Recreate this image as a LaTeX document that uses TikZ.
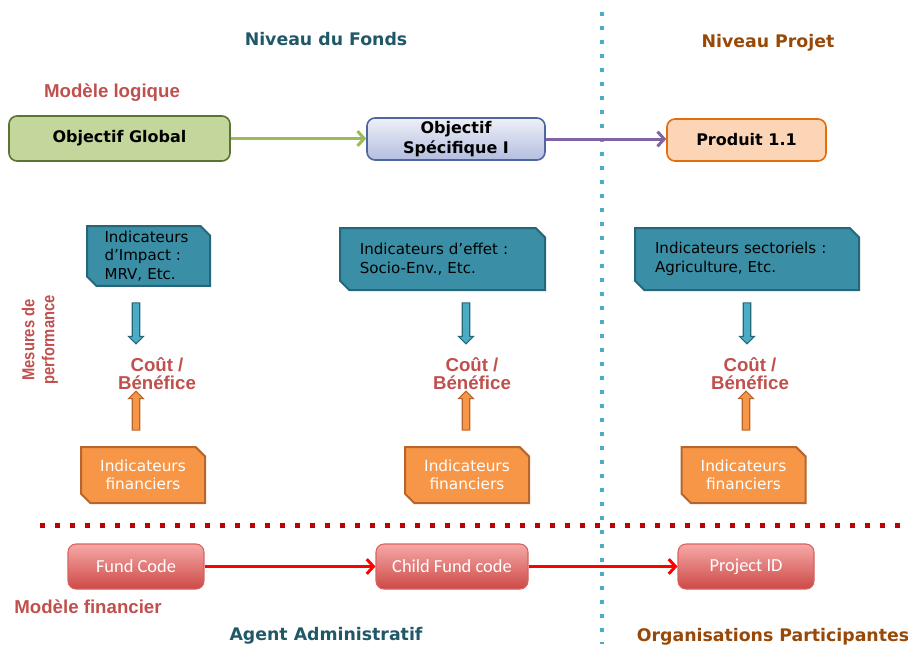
\documentclass[tikz,border=0pt]{standalone}
\usepackage{fontspec}
\setmainfont{DejaVu Sans}
\newfontfamily\arialf{Liberation Sans}
\newfontfamily\arialn[FakeStretch=0.85]{Liberation Sans}
\newfontfamily\calibf{Carlito}
\usetikzlibrary{shapes.misc,shapes.arrows,arrows.meta}
\definecolor{hdrteal}{HTML}{215868}
\definecolor{hdrbrown}{HTML}{984807}
\definecolor{lblred}{HTML}{C0504D}
\definecolor{ogfill}{HTML}{C3D69B}
\definecolor{ogdraw}{HTML}{5B7530}
\definecolor{ostop}{HTML}{EEF0F8}
\definecolor{osbot}{HTML}{B3BEDF}
\definecolor{osdraw}{HTML}{4F66A0}
\definecolor{prfill}{HTML}{FBD5B5}
\definecolor{prdraw}{HTML}{E46C0A}
\definecolor{tealfill}{HTML}{3A8FA6}
\definecolor{tealdraw}{HTML}{25677A}
\definecolor{orfill}{HTML}{F79646}
\definecolor{ordraw}{HTML}{B7652D}
\definecolor{grarrow}{HTML}{9BBB59}
\definecolor{puarrow}{HTML}{8064A2}
\definecolor{vdot}{HTML}{4BACC6}
\definecolor{rdot}{HTML}{C00000}
\definecolor{redtop}{HTML}{F6A9A7}
\definecolor{redbot}{HTML}{CC4946}
\definecolor{reddraw}{HTML}{D8625E}
\definecolor{arrred}{HTML}{FF0000}
\definecolor{bluearrowfill}{HTML}{4BACC6}
\begin{document}
\begin{tikzpicture}[x=0.75pt,y=-0.75pt,
  header/.style={font=\bfseries\fontsize{13}{15}\selectfont},
  redlabel/.style={font=\arialf\bfseries\fontsize{14}{16}\selectfont, text=lblred},
  topbox/.style={rounded corners=6pt, line width=1.2pt, font=\bfseries\fontsize{12}{15}\selectfont, align=center, inner sep=0pt},
  indbox/.style={chamfered rectangle, chamfered rectangle corners={north east,south west},
    chamfered rectangle xsep=3.5pt, chamfered rectangle ysep=3.5pt,
    fill=tealfill, draw=tealdraw, line width=1.5pt,
    font=\fontsize{11.3}{13.9}\selectfont, align=left, inner sep=0pt},
  finbox/.style={chamfered rectangle, chamfered rectangle corners={north east,south west},
    chamfered rectangle xsep=3.5pt, chamfered rectangle ysep=3.5pt,
    fill=orfill, draw=ordraw, line width=1.5pt, text=white,
    font=\fontsize{11.5}{13.5}\selectfont, align=center,
    minimum width=93pt, minimum height=42pt, inner sep=0pt},
  cbtext/.style={text=lblred, align=center, font=\arialf\bfseries\fontsize{14}{13.5}\selectfont},
  downarr/.style={single arrow, rotate=-90, draw=tealdraw, fill=bluearrowfill, line width=0.8pt,
    inner xsep=0pt, inner ysep=2.4pt, minimum height=30.75pt, single arrow head extend=2.8pt},
  uparr/.style={single arrow, rotate=90, draw=ordraw, fill=orfill, line width=0.8pt,
    inner xsep=0pt, inner ysep=2.4pt, minimum height=29.25pt, single arrow head extend=2.8pt},
  finnode/.style={rounded corners=6pt, top color=redtop, bottom color=redbot, draw=reddraw,
    line width=0.8pt, text=white, font=\calibf\fontsize{13.8}{15}\selectfont, minimum height=33.75pt},
  flow/.style={line width=2.25pt, -{Straight Barb[length=5pt,width=11pt]}}
]
\useasboundingbox (0,0) rectangle (908,644);

% separators
\coordinate (vt) at (602,12);
\coordinate (vb) at (602,644);
\draw[vdot, line width=3pt, dash pattern=on 3pt off 7.5pt] (vt) -- (vb);
\coordinate (rl) at (40,525);
\coordinate (rr) at (908,525);
\draw[rdot, line width=3.75pt, dash pattern=on 3.75pt off 7.5pt] (rl) -- (rr);

% headers
\node[header, text=hdrteal] (nf) at (326,39) {Niveau du Fonds};
\node[header, text=hdrbrown] (np) at (768,43) {Niveau Projet};
\node[redlabel] (ml) at (112,93) {Modèle logique};

% logical model
\node[topbox, fill=ogfill, draw=ogdraw, minimum width=165.75pt, minimum height=33.75pt] (og) at (119.5,138.5) {Objectif Global};
\node[topbox, top color=ostop, bottom color=osbot, draw=osdraw, minimum width=133.5pt, minimum height=31.5pt] (os) at (456,139) {Objectif\\Spécifique I};
\node[topbox, fill=prfill, draw=prdraw, minimum width=119.25pt, minimum height=31.5pt] (pr) at (746.5,140) {Produit 1.1};
\draw[flow, grarrow] (og.east) -- (og.east -| os.west);
\draw[flow, puarrow] (os.east) -- (os.east -| pr.west);

% indicators
\node[indbox, minimum width=92.25pt, minimum height=42pt, text width=66pt] (i1) at (148.5,256) {Indicateurs\\d'Impact :\\MRV, Etc.};
\node[indbox, minimum width=153.75pt, minimum height=46.5pt, text width=124pt] (i2) at (442.5,259) {Indicateurs d'effet :\\Socio-Env., Etc.};
\node[indbox, minimum width=168pt, minimum height=46.5pt, text width=138pt] (i3) at (747,259) {Indicateurs sectoriels :\\Agriculture, Etc.};

\node[downarr] (d1) at (136,321.5) {};
\node[downarr] (d2) at (466,321.5) {};
\node[downarr] (d3) at (747,321.5) {};

\node[cbtext] (c1) at (157,374) {Coût /\\Bénéfice};
\node[cbtext] (c2) at (472,374) {Coût /\\Bénéfice};
\node[cbtext] (c3) at (750,374) {Coût /\\Bénéfice};

\node[uparr] (u1) at (136,412.5) {};
\node[uparr] (u2) at (466,412.5) {};
\node[uparr] (u3) at (746,412.5) {};

\node[finbox] (f1) at (143,475) {Indicateurs\\financiers};
\node[finbox] (f2) at (467,475) {Indicateurs\\financiers};
\node[finbox] (f3) at (743.5,475) {Indicateurs\\financiers};

\node[rotate=90, align=center, text=lblred, font=\arialn\bfseries\fontsize{13}{15}\selectfont] (mp) at (40,340) {Mesures de\\performance};

% financial model
\node[finnode, minimum width=102pt] (fc) at (136,566.5) {Fund Code};
\node[finnode, minimum width=114pt] (cf) at (452,566.5) {Child Fund code};
\node[finnode, minimum width=102pt] (pid) at (746,566.5) {Project ID};
\draw[flow, arrred] (fc.east) -- (cf.west);
\draw[flow, arrred] (cf.east) -- (pid.west);

\node[redlabel] (mf) at (88,607) {Modèle financier};
\node[header, text=hdrteal] (aa) at (326,636) {Agent Administratif};
\node[header, text=hdrbrown] (op) at (773,637) {Organisations Participantes};
\end{tikzpicture}
\end{document}
